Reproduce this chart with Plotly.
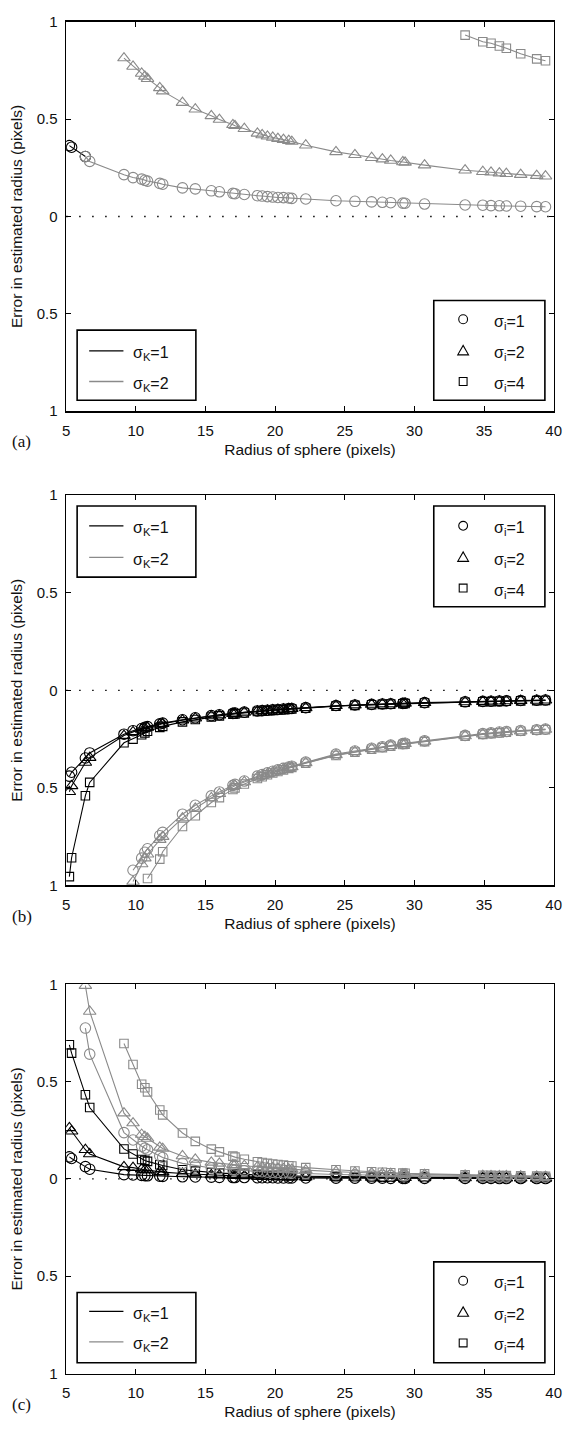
import plotly.graph_objects as go

W, H = 571, 1429

# ---------------- data ----------------
radius = [5.23, 5.39, 6.38, 6.69, 9.15, 9.8, 10.42, 10.65, 10.84, 11.72, 11.93, 13.35, 14.27,
          15.42, 16.0, 16.97, 17.12, 17.79, 18.73, 19.07, 19.45, 19.83, 20.2, 20.6, 20.98, 21.2,
          22.2, 24.37, 25.73, 26.93, 27.7, 28.3, 29.17, 29.33, 30.73, 33.64, 34.91, 35.5, 36.1,
          36.6, 37.63, 38.78, 39.41]
N = None

# panel (a)
a_k1_i1 = [0.364, 0.356, 0.308]
a_k2_i1 = [N, N, 0.308, 0.283, 0.215, 0.20, 0.192, 0.186, 0.182, 0.17, 0.166, 0.147, 0.142, 0.132,
           0.127, 0.119, 0.117, 0.113, 0.107, 0.105, 0.102, 0.100, 0.098, 0.097, 0.095, 0.093, 0.09,
           0.081, 0.078, 0.075, 0.073, 0.071, 0.069, 0.068, 0.064, 0.059, 0.058, 0.056, 0.055, 0.054,
           0.053, 0.051, 0.050]
a_k2_i2 = [N, N, N, N, 0.814, 0.771, 0.735, 0.72, 0.708, 0.661, 0.644, 0.585, 0.551, 0.517, 0.498,
           0.471, 0.466, 0.451, 0.427, 0.419, 0.412, 0.406, 0.4, 0.395, 0.39, 0.385, 0.366, 0.332,
           0.317, 0.302, 0.295, 0.288, 0.28, 0.278, 0.264, 0.238, 0.23, 0.227, 0.223, 0.22, 0.215,
           0.21, 0.207]
a_k2_i4 = [N] * 35 + [0.932, 0.898, 0.89, 0.876, 0.864, 0.836, 0.81, 0.8]

# panel (b)
b_k1_i1 = [-0.44, -0.42, -0.347, -0.321, -0.225, -0.207, -0.196, -0.19, -0.186, -0.172, -0.168,
           -0.151, -0.141, -0.13, -0.125, -0.118, -0.117, -0.112, -0.106, -0.104, -0.102, -0.1,
           -0.098, -0.096, -0.094, -0.093, -0.089, -0.078, -0.075, -0.072, -0.07, -0.069, -0.067,
           -0.066, -0.063, -0.059, -0.057, -0.056, -0.055, -0.054, -0.052, -0.051, -0.05]
b_k1_i2 = [-0.52, -0.49, -0.37, -0.345, -0.232, -0.213, -0.2, -0.194, -0.19, -0.175, -0.171,
           -0.153, -0.143, -0.132, -0.127, -0.12, -0.118, -0.113, -0.107, -0.105, -0.103, -0.101,
           -0.099, -0.097, -0.095, -0.094, -0.09, -0.079, -0.076, -0.073, -0.071, -0.07, -0.068,
           -0.067, -0.064, -0.06, -0.058, -0.057, -0.056, -0.055, -0.053, -0.052, -0.051]
b_k1_i4 = [-0.955, -0.858, -0.54, -0.472, -0.269, -0.25, -0.228, -0.218, -0.21, -0.19, -0.185,
           -0.162, -0.15, -0.137, -0.131, -0.123, -0.121, -0.116, -0.109, -0.107, -0.105, -0.103,
           -0.101, -0.099, -0.097, -0.096, -0.092, -0.081, -0.077, -0.074, -0.072, -0.071, -0.069,
           -0.068, -0.065, -0.061, -0.059, -0.058, -0.057, -0.056, -0.054, -0.053, -0.052]
b_k2_i1 = [N] * 5 + [-0.922, -0.86, -0.83, -0.812, -0.745, -0.728, -0.635, -0.589, -0.541, -0.521,
                     -0.487, -0.482, -0.465, -0.44, -0.432, -0.423, -0.415, -0.408, -0.4, -0.393,
                     -0.389, -0.368, -0.327, -0.311, -0.297, -0.289, -0.281, -0.273, -0.271, -0.259,
                     -0.231, -0.222, -0.218, -0.214, -0.211, -0.206, -0.202, -0.199]
b_k2_i2 = [N] * 5 + [-0.98, -0.89, -0.86, -0.84, -0.765, -0.75, -0.655, -0.605, -0.552, -0.53,
                     -0.494, -0.489, -0.47, -0.445, -0.437, -0.428, -0.42, -0.412, -0.404, -0.397,
                     -0.393, -0.372, -0.331, -0.315, -0.3, -0.292, -0.284, -0.276, -0.274, -0.262,
                     -0.234, -0.225, -0.221, -0.217, -0.214, -0.209, -0.204, -0.201]
b_k2_i4 = [N] * 8 + [-0.964, -0.865, -0.827, -0.698, -0.643, -0.575, -0.55, -0.508, -0.5, -0.48,
                     -0.452, -0.443, -0.433, -0.424, -0.416, -0.408, -0.4, -0.395, -0.374, -0.334,
                     -0.317, -0.302, -0.294, -0.286, -0.278, -0.276, -0.263, -0.235, -0.226, -0.222,
                     -0.218, -0.215, -0.21, -0.205, -0.202]

# panel (c)
c_k1_i1 = [0.113, 0.105, 0.063, 0.05, 0.022, 0.02, 0.018, 0.017, 0.016, 0.014, 0.013, 0.011, 0.01,
           0.009, 0.008, 0.007, 0.007, 0.007, 0.006, 0.006, 0.006, 0.006, 0.005, 0.005, 0.005, 0.005,
           0.005, 0.004, 0.004, 0.004, 0.004, 0.003, 0.003, 0.003, 0.003, 0.003, 0.003, 0.003, 0.002,
           0.002, 0.002, 0.002, 0.002]
c_k1_i2 = [0.262, 0.245, 0.15, 0.128, 0.062, 0.058, 0.05, 0.047, 0.045, 0.037, 0.035, 0.028, 0.024,
           0.02, 0.019, 0.017, 0.016, 0.015, 0.013, 0.013, 0.012, 0.012, 0.011, 0.011, 0.01, 0.01,
           0.009, 0.008, 0.007, 0.007, 0.006, 0.006, 0.006, 0.006, 0.005, 0.005, 0.004, 0.004, 0.004,
           0.004, 0.004, 0.003, 0.003]
c_k1_i4 = [0.689, 0.646, 0.432, 0.367, 0.154, 0.128, 0.1, 0.095, 0.09, 0.073, 0.069, 0.047, 0.04,
           0.033, 0.03, 0.027, 0.026, 0.024, 0.021, 0.02, 0.019, 0.018, 0.018, 0.017, 0.016, 0.016,
           0.014, 0.012, 0.011, 0.01, 0.009, 0.009, 0.008, 0.008, 0.008, 0.007, 0.006, 0.006, 0.006,
           0.006, 0.005, 0.005, 0.005]
c_k2_i1 = [N, N, 0.775, 0.641, 0.238, 0.2, 0.168, 0.158, 0.15, 0.118, 0.11, 0.08, 0.068, 0.056,
           0.052, 0.046, 0.045, 0.042, 0.038, 0.037, 0.035, 0.034, 0.033, 0.032, 0.031, 0.03, 0.028,
           0.023, 0.021, 0.019, 0.018, 0.017, 0.016, 0.016, 0.014, 0.012, 0.011, 0.011, 0.01, 0.01,
           0.01, 0.009, 0.009]
c_k2_i2 = [N, N, 0.993, 0.86, 0.338, 0.287, 0.228, 0.217, 0.208, 0.162, 0.156, 0.118, 0.1, 0.085,
           0.08, 0.073, 0.072, 0.068, 0.062, 0.06, 0.058, 0.056, 0.054, 0.052, 0.05, 0.049, 0.045,
           0.037, 0.033, 0.03, 0.028, 0.027, 0.025, 0.025, 0.022, 0.018, 0.017, 0.016, 0.015, 0.015,
           0.014, 0.013, 0.012]
c_k2_i4 = [N] * 4 + [0.696, 0.588, 0.486, 0.468, 0.447, 0.354, 0.329, 0.236, 0.193, 0.153, 0.139,
                     0.117, 0.112, 0.101, 0.088, 0.084, 0.08, 0.077, 0.074, 0.071, 0.068, 0.066,
                     0.058, 0.047, 0.041, 0.037, 0.034, 0.032, 0.03, 0.029, 0.026, 0.021, 0.019,
                     0.018, 0.017, 0.017, 0.016, 0.015, 0.014]

x_ticks = [5, 10, 15, 20, 25, 30, 35, 40]
y_ticks = [-1, -0.5, 0, 0.5, 1]
y_tick_text = ["1", "0.5", "0", "0.5", "1"]
panel_labels = ["(a)", "(b)", "(c)"]
kernel_labels = ["σ<sub>K</sub>=1", "σ<sub>K</sub>=2"]
sigma_labels = ["σ<sub>i</sub>=1", "σ<sub>i</sub>=2", "σ<sub>i</sub>=4"]
x_title = "Radius of sphere (pixels)"
y_title = "Error in estimated radius (pixels)"

# ---------------- style ----------------
BLACK = "#000000"
GREY = "#8a8a8a"
TXT = "#111111"
SANS = "Liberation Sans, Arial, Helvetica, sans-serif"
SERIF = "Liberation Serif, Times New Roman, serif"
SYMBOLS = {"i1": ("circle-open", 10.5), "i2": ("triangle-up-open", 11), "i4": ("square-open", 8.5)}

def px(x):
    return x / W

def py(y):
    return 1 - y / H

# plot areas in pixels (left, right, top, bottom)
X_L, X_R = 63.5, 561.5
panels_px = [(13, 407), (492, 887), (987, 1381)]

fig = go.Figure()

panels = [
    [(a_k1_i1, BLACK, "i1"), (a_k2_i1, GREY, "i1"), (a_k2_i2, GREY, "i2"), (a_k2_i4, GREY, "i4")],
    [(b_k1_i1, BLACK, "i1"), (b_k1_i2, BLACK, "i2"), (b_k1_i4, BLACK, "i4"),
     (b_k2_i1, GREY, "i1"), (b_k2_i2, GREY, "i2"), (b_k2_i4, GREY, "i4")],
    [(c_k1_i1, BLACK, "i1"), (c_k1_i2, BLACK, "i2"), (c_k1_i4, BLACK, "i4"),
     (c_k2_i1, GREY, "i1"), (c_k2_i2, GREY, "i2"), (c_k2_i4, GREY, "i4")],
]

for p, series in enumerate(panels):
    xa = "x" if p == 0 else f"x{p+1}"
    ya = "y" if p == 0 else f"y{p+1}"
    for vals, col, key in series:
        sym, size = SYMBOLS[key]
        fig.add_trace(go.Scatter(
            x=radius[:len(vals)], y=vals, xaxis=xa, yaxis=ya, mode="lines+markers",
            line=dict(color=col, width=1.1),
            marker=dict(symbol=sym, size=size, color=col, line=dict(width=1.1, color=col)),
            showlegend=False, hoverinfo="skip"))

layout = dict(width=W, height=H, margin=dict(l=0, r=0, t=0, b=0),
              paper_bgcolor="white", plot_bgcolor="white", showlegend=False,
              font=dict(family=SANS, size=15, color=TXT))

shapes = []
annotations = []

for p, (top, bot) in enumerate(panels_px):
    sfx = "" if p == 0 else str(p + 1)
    ax_common = dict(showline=True, linecolor="black", linewidth=1.6, mirror="ticks",
                     ticks="inside", ticklen=5, tickwidth=1, tickcolor="black",
                     showgrid=False, zeroline=False, tickfont=dict(family=SANS, size=15, color=TXT))
    layout["xaxis" + sfx] = dict(domain=[px(X_L), px(X_R)], range=[5, 40], tickvals=x_ticks,
                                 anchor="y" + sfx, ticklabelstandoff=5,
                                 title=dict(text=x_title, font=dict(family=SANS, size=15.5, color=TXT),
                                            standoff=6), **ax_common)
    layout["yaxis" + sfx] = dict(domain=[py(bot), py(top)], range=[-1, 1], tickvals=y_ticks,
                                 ticktext=y_tick_text, anchor="x" + sfx, ticklabelstandoff=4,
                                 title=dict(text=y_title, font=dict(family=SANS, size=15.5, color=TXT),
                                            standoff=10), **ax_common)
    # dotted zero reference line
    shapes.append(dict(type="line", xref="x" + sfx + " domain", yref="y" + sfx,
                       x0=0, x1=1, y0=0, y1=0, layer="below",
                       line=dict(color="black", width=1.3, dash="1.5px,11.5px")))
    annotations.append(dict(text=panel_labels[p], xref="paper", yref="paper",
                            x=px(6), y=py(bot + 31), xanchor="left", yanchor="middle",
                            showarrow=False, font=dict(family=SERIF, size=17, color=TXT)))

# legend boxes (pixel geometry per panel)
leg_left = [(325, 396, [346, 377]), (503, 575, [523, 555]), (1299, 1370, [1318, 1349])]
leg_right = [(295, 396, [314, 346, 377]), (503, 605, [523, 555, 586]),
             (1268, 1370, [1287, 1319, 1350])]

def box(x0, x1, y0, y1):
    return dict(type="rect", xref="paper", yref="paper", x0=px(x0), x1=px(x1), y0=py(y1), y1=py(y0),
                line=dict(color="black", width=1.6), fillcolor="white", layer="above")

for p in range(3):
    y0, y1, rows = leg_left[p]
    shapes.append(box(74.7, 196, y0, y1))
    for r, (yy, col) in enumerate(zip(rows, [BLACK, GREY])):
        shapes.append(dict(type="line", xref="paper", yref="paper", x0=px(87), x1=px(122),
                           y0=py(yy), y1=py(yy), line=dict(color=col, width=1.3), layer="above"))
        annotations.append(dict(text=kernel_labels[r], xref="paper", yref="paper", x=px(130),
                                y=py(yy), xanchor="left", yanchor="middle", yshift=-3, showarrow=False,
                                font=dict(family=SANS, size=16, color=TXT)))
    y0, y1, rows = leg_right[p]
    shapes.append(box(439, 552.5, y0, y1))
    mx = 469
    for r, yy in enumerate(rows):
        if r == 0:
            shapes.append(dict(type="circle", xref="paper", yref="paper", x0=px(mx - 4.5), x1=px(mx + 4.5),
                               y0=py(yy + 4.5), y1=py(yy - 4.5), line=dict(color="black", width=1.1), layer="above"))
        elif r == 1:
            path = f"M {px(mx-5.5)},{py(yy+4)} L {px(mx+5.5)},{py(yy+4)} L {px(mx)},{py(yy-5.5)} Z"
            shapes.append(dict(type="path", xref="paper", yref="paper", path=path,
                               line=dict(color="black", width=1.1), layer="above"))
        else:
            shapes.append(dict(type="rect", xref="paper", yref="paper", x0=px(mx - 4), x1=px(mx + 4),
                               y0=py(yy + 4), y1=py(yy - 4), line=dict(color="black", width=1.1), layer="above"))
        annotations.append(dict(text=sigma_labels[r], xref="paper", yref="paper", x=px(498),
                                y=py(yy), xanchor="left", yanchor="middle", yshift=-3, showarrow=False,
                                font=dict(family=SANS, size=16, color=TXT)))

layout["shapes"] = shapes
layout["annotations"] = annotations
fig.update_layout(**layout)

# remove the default page margin so the figure sits exactly in the 571x1429 window
fig.write_html("out.html", config={"displayModeBar": False, "staticPlot": True},
               post_script="document.body.style.margin='0';document.body.style.padding='0';"
                           "document.body.style.overflow='hidden';"
                           "document.documentElement.style.overflow='hidden';")
